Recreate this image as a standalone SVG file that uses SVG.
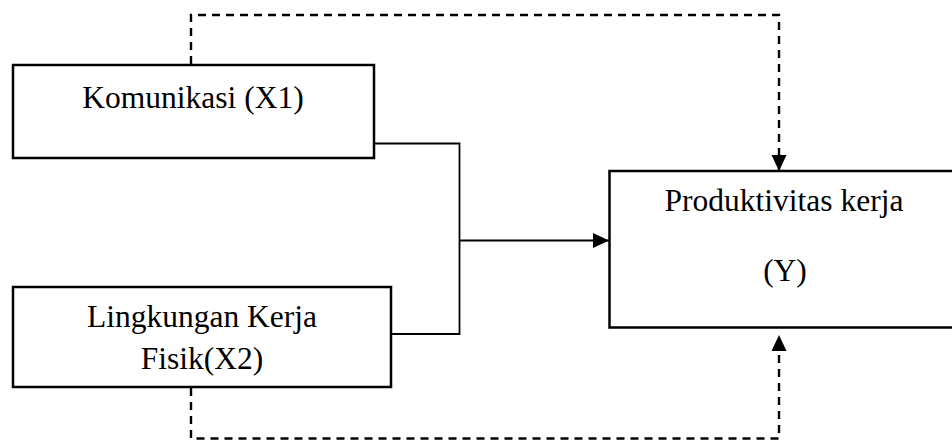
<svg xmlns="http://www.w3.org/2000/svg" width="952" height="440" viewBox="0 0 952 440">
<style>
.box{fill:#fff;stroke:#000;stroke-width:2.5}
.t{font-family:"Liberation Serif","Times New Roman",serif;font-size:31.5px;fill:#000;text-anchor:middle}
.solid{fill:none;stroke:#000;stroke-width:1.8}
.dash{fill:none;stroke:#000;stroke-width:2.4;stroke-dasharray:8,6}
</style>
<defs>
<marker id="ah" markerUnits="userSpaceOnUse" markerWidth="16" markerHeight="16" viewBox="0 0 16 16" refX="16" refY="8" orient="auto">
<path d="M0,0.5 L16,8 L0,15.5 Z" fill="#000"/>
</marker>
</defs>
<g id="connectors">
<path class="dash" d="M191,64 V15 H779 V171" marker-end="url(#ah)"/>
<path class="dash" d="M191,388 V438.5 H779 V335" marker-end="url(#ah)"/>
<path class="solid" d="M374,143.5 H459.5 V334 H383"/>
<path class="solid" d="M459.5,240.5 H609" marker-end="url(#ah)"/>
</g>
<g id="x1">
<rect class="box" x="13" y="65" width="361" height="93"/>
<text class="t" x="193" y="108">Komunikasi (X1)</text>
</g>
<g id="x2">
<rect class="box" x="13" y="287" width="378" height="100"/>
<text class="t" x="202" y="327">Lingkungan Kerja</text>
<text class="t" x="202" y="369">Fisik(X2)</text>
</g>
<g id="y">
<rect class="box" x="609.5" y="171" width="360" height="156.5"/>
<text class="t" x="784" y="211">Produktivitas kerja</text>
<text class="t" x="785" y="281">(Y)</text>
</g>
</svg>
